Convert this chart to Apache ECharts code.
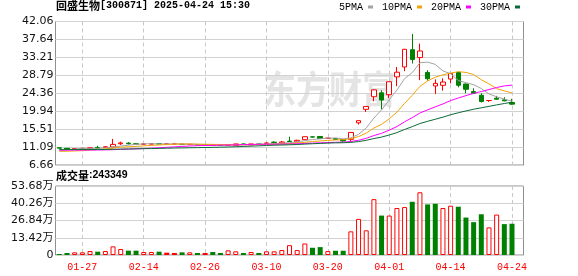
<!DOCTYPE html>
<html><head><meta charset="utf-8">
<script src="https://cdn.jsdelivr.net/npm/echarts@6/dist/echarts.min.js"></script>
<style>html,body{margin:0;padding:0;background:#fff}#c{width:578px;height:276px}</style>
</head><body><div id="c"></div>
<script>
const dates = ['01-22','01-23','01-24','01-27','02-05','02-06','02-07','02-10','02-11','02-12','02-13','02-14','02-17','02-18','02-19','02-20','02-21','02-24','02-25','02-26','02-27','02-28','03-03','03-04','03-05','03-06','03-07','03-10','03-11','03-12','03-13','03-14','03-17','03-18','03-19','03-20','03-21','03-24','03-25','03-26','03-27','03-28','03-31','04-01','04-02','04-03','04-07','04-08','04-09','04-10','04-11','04-14','04-15','04-16','04-17','04-18','04-21','04-22','04-23','04-24'];
const opens = [10.90,10.78,10.62,10.70,10.75,11.00,11.00,11.09,11.90,12.05,11.88,11.80,11.82,11.92,11.85,11.85,11.80,11.70,11.65,11.60,11.50,11.55,11.50,11.45,11.85,11.62,11.82,11.95,12.30,12.10,12.55,12.35,12.90,13.60,13.70,13.20,13.20,12.95,13.00,17.06,20.40,23.50,24.47,24.00,28.40,30.85,35.10,33.16,29.50,26.15,26.32,27.86,29.49,26.64,24.77,23.87,22.57,23.14,22.73,22.08];
const highs = [10.95,10.85,10.75,10.85,11.05,11.40,11.35,13.10,12.40,12.30,11.95,11.90,11.95,11.95,11.90,11.95,11.85,11.80,11.70,11.65,11.60,11.60,11.85,11.90,11.95,11.90,11.85,12.30,12.50,12.60,13.65,12.90,13.70,13.70,13.75,13.35,13.25,13.00,14.75,17.64,21.12,25.30,25.10,27.22,30.85,35.30,39.00,36.60,30.06,27.78,28.03,29.30,29.66,26.70,25.58,24.36,22.60,23.71,23.38,22.97];
const lows = [10.75,10.55,10.55,10.65,10.60,10.60,10.95,11.00,11.60,11.70,11.75,11.72,11.78,11.80,11.78,11.80,11.65,11.65,11.55,11.55,11.45,11.45,11.40,11.40,11.60,11.55,11.70,11.85,11.95,12.05,12.35,12.30,12.85,13.45,13.10,13.10,12.85,12.30,12.45,16.65,19.75,22.40,20.40,23.17,26.10,29.80,31.70,27.60,27.46,24.20,25.00,26.80,25.83,24.36,24.20,22.08,22.24,22.73,22.40,21.50];
const closes = [10.82,10.60,10.70,10.78,10.90,10.85,11.15,11.75,12.10,11.90,11.80,11.85,11.90,11.85,11.85,11.85,11.70,11.75,11.60,11.60,11.55,11.50,11.55,11.85,11.75,11.85,11.78,12.10,12.20,12.34,12.45,12.75,13.64,13.55,13.20,13.30,12.95,12.60,14.70,17.60,21.10,25.20,22.68,27.20,29.55,35.20,32.67,34.79,27.95,26.80,27.13,29.25,26.32,25.34,24.36,22.32,22.57,22.89,22.49,21.67];
const volumes = [7800,15600,20700,20700,31100,25900,31100,67400,46700,33700,33700,23300,23300,25900,18100,15600,20700,20700,15600,15600,23300,15600,36300,28500,15600,23300,15600,28500,28500,38900,76700,38300,89500,56200,61300,30700,33200,33200,184000,281000,192000,434500,306700,306700,365500,373000,414000,488000,393600,398700,365500,383400,375700,291400,255600,317000,214700,314400,240300,243349];
// closes of the 29 sessions before the first visible one (estimated from where the MA lines start)
const priorCloses = [11.0,10.9,10.95,10.8,10.85,10.9,10.75,10.8,10.85,10.7,10.75,10.8,10.7,10.6,10.65,10.7,10.55,10.6,10.65,10.6,10.3,10.1,9.9,9.6,9.5,9.6,9.7,9.9,10.9];
const priceTicks = ['6.66','11.09','15.51','19.94','24.36','28.79','33.21','37.64','42.06'];
const volumeTicks = ['0','13.42万','26.84万','40.26万','53.68万'];
const dateLabels = ['01-27','02-14','02-26','03-10','03-20','04-01','04-14','04-24'];
const maPeriods = [5,10,20,30];
const maNames = ['5PMA','10PMA','20PMA','30PMA'];
const maColors = ['#a3a3a3','#f0a30a','#ff00ff','#0a6b38'];

const priceMin = 6.66, priceMax = 42.06, priceStep = 4.425;
const volMax = 536800, volStep = 134200;
const RED = '#ff0000', GREEN = '#008000';
const MONO = '"Liberation Mono", "Noto Sans CJK SC", monospace';
const SANS = '"DejaVu Sans", "Noto Sans CJK SC", sans-serif';
const CJK = '"Noto Sans CJK SC", sans-serif';

const cats = dates.concat(['']);
const allCloses = priorCloses.concat(closes);
function movingAverage(n) {
  return closes.map((c, i) => {
    const end = priorCloses.length + i;
    let s = 0;
    for (let k = end - n + 1; k <= end; k++) s += allCloses[k];
    return +(s / n).toFixed(3);
  });
}
const candleData = closes.map((c, i) => [opens[i], c, lows[i], highs[i]]);
const volData = volumes.map((v, i) => {
  const prev = i > 0 ? closes[i - 1] : priorCloses[priorCloses.length - 1];
  const c = closes[i];
  let style;
  if (c > prev) style = { color: '#fff', borderColor: RED, borderWidth: 1 };
  else if (c < prev) style = { color: GREEN, borderColor: GREEN, borderWidth: 0 };
  else style = { color: RED, borderColor: RED, borderWidth: 0 };
  return { value: v, itemStyle: style };
});
const isLabelDate = (idx, val) => dateLabels.indexOf(val) >= 0;
const vSplit = { show: true, interval: isLabelDate, alignWithLabel: true, lineStyle: { color: '#c8c8c8', type: [4, 3], width: 1 } };
const hSplit = { show: true, lineStyle: { color: '#d2d2d2', width: 1 } };

const maSeries = maPeriods.map((p, k) => ({
  name: maNames[k], type: 'line', xAxisIndex: 0, yAxisIndex: 0,
  data: movingAverage(p), symbol: 'none', smooth: false,
  lineStyle: { width: 1, color: maColors[k] }, itemStyle: { color: maColors[k] }, z: 3
}));

const chart = echarts.init(document.getElementById('c'), null, { renderer: 'canvas' });
chart.setOption({
  animation: false,
  backgroundColor: '#fff',
  title: [
    { text: '{a|回盛生物}{b|[300871] 2025-04-24 15:30}', left: 56, top: 0, padding: 0,
      textStyle: { rich: { a: { fontFamily: CJK, fontSize: 11, color: '#000' }, b: { fontFamily: MONO, fontSize: 10, color: '#000' } } } },
    { text: '{a|成交量}{b|:243349}', left: 56, top: 170, padding: 0,
      textStyle: { rich: { a: { fontFamily: CJK, fontSize: 11, color: '#000' }, b: { fontFamily: '"Liberation Sans", sans-serif', fontSize: 10.5, color: '#000' } } } }
  ],
  legend: {
    left: 339, top: 2, padding: 0, align: 'right', itemGap: 9, itemWidth: 5, itemHeight: 3,
    icon: 'rect', data: maNames,
    textStyle: { fontFamily: MONO, fontSize: 10, color: '#000' }
  },
  graphic: [
    { type: 'text', x: 263, y: 70, z: -10, scaleX: 0.87,
      style: { text: '东方财富', font: 'bold 38px "Noto Sans CJK SC"', fill: '#e4e4e4' } }
  ],
  grid: [
    { left: 55.5, top: 21.5, width: 468, height: 143.5, show: true, borderColor: '#8f8f8f', borderWidth: 1, backgroundColor: 'transparent', outerBoundsMode: 'none' },
    { left: 55.5, top: 186, width: 468, height: 69, show: true, borderColor: '#8f8f8f', borderWidth: 1, backgroundColor: 'transparent', outerBoundsMode: 'none' }
  ],
  xAxis: [
    { type: 'category', gridIndex: 0, data: cats, boundaryGap: true,
      axisLine: { show: false }, axisTick: { show: false }, axisLabel: { show: false }, splitLine: vSplit },
    { type: 'category', gridIndex: 1, data: cats, boundaryGap: true,
      axisLine: { show: false }, axisTick: { show: false },
      axisLabel: { show: true, interval: isLabelDate, color: RED, fontFamily: MONO, fontSize: 10, margin: 7, hideOverlap: false },
      splitLine: vSplit }
  ],
  yAxis: [
    { type: 'value', gridIndex: 0, min: priceMin, max: priceMax, interval: priceStep,
      axisLine: { show: false }, axisTick: { show: false }, splitLine: hSplit,
      axisLabel: { margin: 2, color: '#111', fontFamily: SANS, fontSize: 11,
        formatter: v => priceTicks[Math.round((v - priceMin) / priceStep)] || '' } },
    { type: 'value', gridIndex: 1, min: 0, max: volMax, interval: volStep,
      axisLine: { show: false }, axisTick: { show: false }, splitLine: hSplit,
      axisLabel: { margin: 2, color: '#111', fontFamily: SANS, fontSize: 11,
        formatter: v => volumeTicks[Math.round(v / volStep)] || '' } }
  ],
  series: [
    { name: 'K', type: 'candlestick', xAxisIndex: 0, yAxisIndex: 0, data: candleData, barWidth: 5,
      itemStyle: { color: '#fff', color0: GREEN, borderColor: RED, borderColor0: GREEN, borderWidth: 1 }, z: 2 }
  ].concat(maSeries).concat([
    { name: 'VOL', type: 'bar', xAxisIndex: 1, yAxisIndex: 1, data: volData, barWidth: 5 }
  ])
});
</script>
</body></html>
